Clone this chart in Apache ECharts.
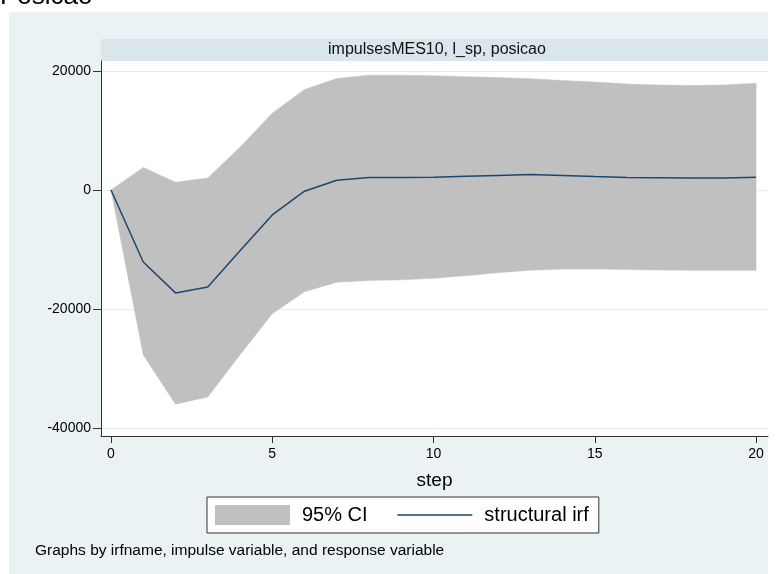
<!DOCTYPE html>
<html>
<head>
<meta charset="utf-8">
<script src="https://cdn.jsdelivr.net/npm/echarts@6/dist/echarts.min.js"></script>
<style>
  html, body { margin: 0; padding: 0; background: #fff; }
  #chart { width: 783px; height: 574px; }
</style>
</head>
<body>
<div id="chart"></div>
<script>
// step 0..20
const steps = [0, 1, 2, 3, 4, 5, 6, 7, 8, 9, 10, 11, 12, 13, 14, 15, 16, 17, 18, 19, 20]
const irf = [0, -12100, -17300, -16300, -10200, -4200, -200, 1650, 2100, 2100, 2150, 2300, 2450, 2600, 2450, 2250, 2100, 2050, 2000, 2000, 2150]
const ciLower = [0, -27700, -36000, -34800, -27700, -20800, -17100, -15500, -15200, -15100, -14850, -14400, -13900, -13500, -13300, -13300, -13350, -13450, -13500, -13500, -13500]
const ciUpper = [0, 3800, 1300, 2000, 7200, 12900, 16900, 18750, 19300, 19300, 19200, 19050, 18900, 18700, 18400, 18150, 17800, 17650, 17550, 17650, 17950]
const yTicks = [-40000, -20000, 0, 20000]
const xTicks = [0, 5, 10, 15, 20]

const chart = echarts.init(document.getElementById('chart'))

const font = 'Liberation Sans, Arial, Helvetica, sans-serif'

// the CI band: one polygon, upper edge forward then lower edge back
const renderBand = (params, api) => {
  if (params.dataIndex !== 0) return null
  const points = []
  for (let i = 0; i < steps.length; i++) points.push(api.coord([steps[i], ciUpper[i]]))
  for (let i = steps.length - 1; i >= 0; i--) points.push(api.coord([steps[i], ciLower[i]]))
  return {
    type: 'polygon',
    shape: { points },
    style: { fill: '#c0c0c0', stroke: '#c0c0c0', lineWidth: 0.5 }
  }
}

const option = {
  backgroundColor: '#fff',
  animation: false,
  textStyle: { fontFamily: font },
  graphic: [
    { type: 'rect', left: 9, top: 12, shape: { width: 759, height: 562 }, style: { fill: '#eaf2f3' }, z: -10 },
    { type: 'rect', left: 101, top: 39, shape: { width: 667, height: 22 }, style: { fill: '#d9e6eb' }, z: -5 },
    {
      type: 'text', left: 328, top: 42,
      style: { text: 'impulsesMES10, l_sp, posicao', font: '16px ' + font, fill: '#111' }
    },
    {
      type: 'text', left: 0, top: -16,
      style: { text: 'Posicao', font: '26px ' + font, fill: '#000' }
    },
    {
      type: 'text', left: 35, top: 543,
      style: { text: 'Graphs by irfname, impulse variable, and response variable', font: '15.5px ' + font, fill: '#000' }
    }
  ],
  grid: {
    left: 101,
    right: 15,
    top: 61,
    bottom: 138,
    show: true,
    backgroundColor: '#fff',
    borderWidth: 0
  },
  legend: {
    left: 207,
    top: 497,
    padding: [8, 10, 8, 8],
    itemWidth: 75,
    itemHeight: 20,
    itemGap: 29,
    backgroundColor: '#fff',
    borderColor: '#333',
    borderWidth: 1,
    borderRadius: 0,
    textStyle: { fontSize: 20, color: '#000', padding: [0, 0, 0, 7] },
    data: [
      { name: '95% CI', icon: 'rect', itemStyle: { color: '#c0c0c0' } },
      { name: 'structural irf', itemStyle: { opacity: 0 }, lineStyle: { color: '#1a476f', width: 1.5, opacity: 1 } }
    ]
  },
  xAxis: {
    type: 'value',
    min: -0.31,
    max: 20.37,
    name: 'step',
    nameLocation: 'middle',
    nameGap: 35,
    nameTextStyle: { fontSize: 19, color: '#000' },
    axisLine: { onZero: false, lineStyle: { color: '#333', width: 1 } },
    axisTick: { show: true, length: 7, customValues: xTicks, lineStyle: { color: '#333' } },
    axisLabel: { customValues: xTicks, fontSize: 14, color: '#000', margin: 11 },
    splitLine: { show: false }
  },
  yAxis: {
    type: 'value',
    min: -41350,
    max: 21680,
    axisLine: { show: true, onZero: false, lineStyle: { color: '#333', width: 1 } },
    axisTick: { show: true, length: 8, customValues: yTicks, lineStyle: { color: '#333' } },
    axisLabel: { customValues: yTicks, fontSize: 14, color: '#000', margin: 10, formatter: v => String(v) },
    splitLine: { show: true, lineStyle: { color: '#e3ecee', width: 1 } }
  },
  series: [
    {
      name: '95% CI',
      type: 'custom',
      silent: true,
      clip: true,
      itemStyle: { color: '#c0c0c0' },
      encode: { x: 0, y: [1, 2] },
      data: steps.map((s, i) => [s, ciLower[i], ciUpper[i]]),
      renderItem: renderBand
    },
    {
      name: 'structural irf',
      type: 'line',
      symbol: 'none',
      color: '#1a476f',
      lineStyle: { color: '#1a476f', width: 1.5 },
      data: steps.map((s, i) => [s, irf[i]])
    }
  ]
}

chart.setOption(option)
</script>
</body>
</html>
